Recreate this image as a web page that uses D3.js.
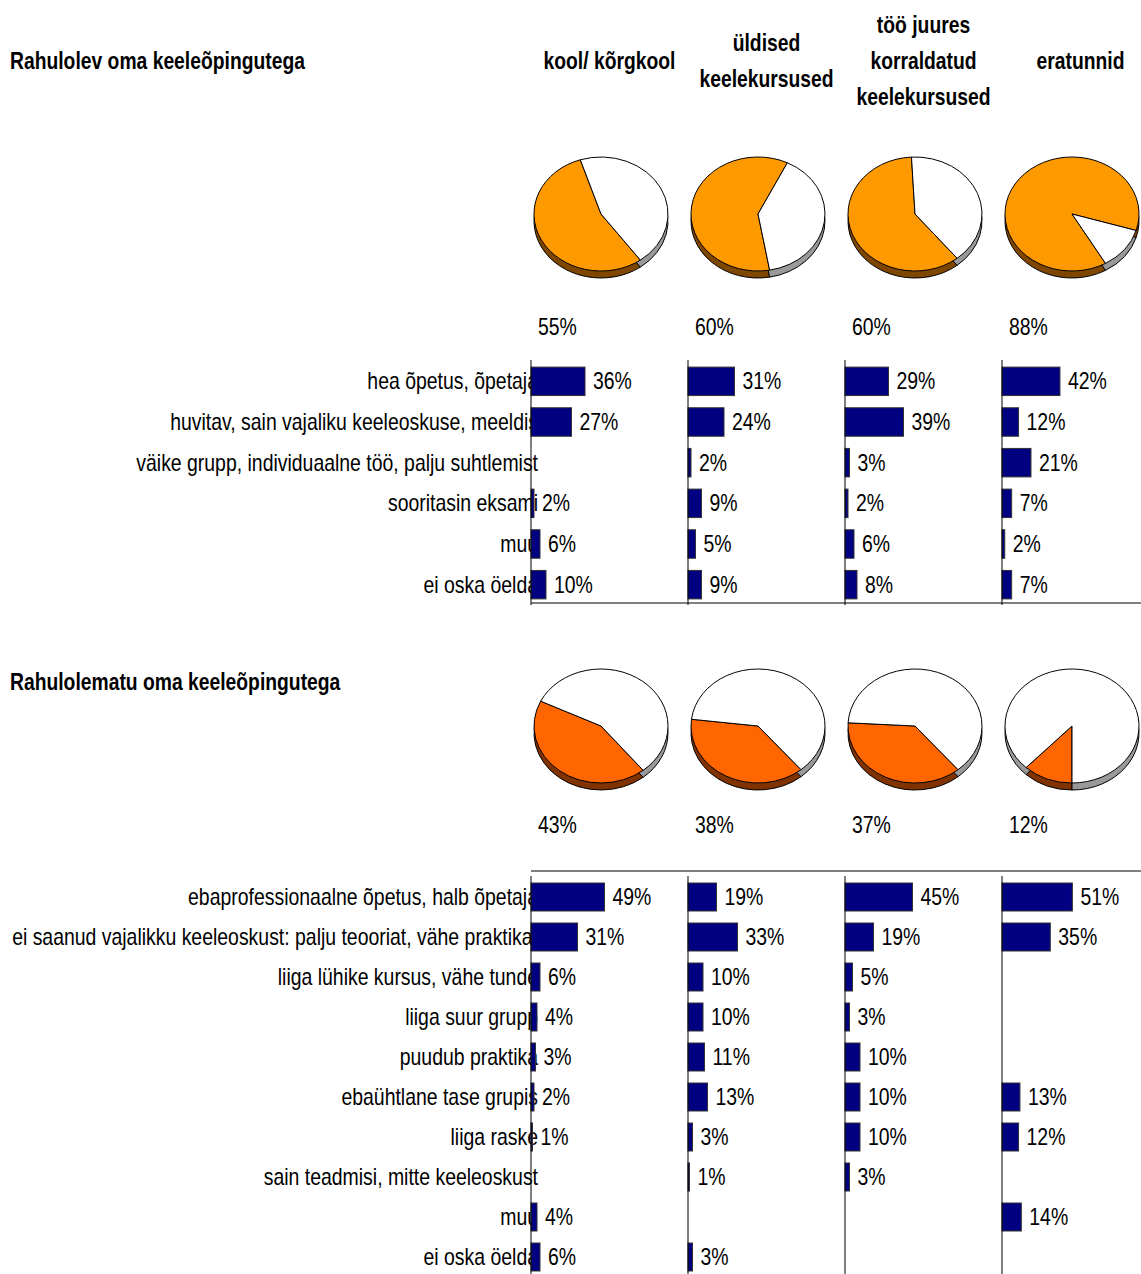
<!DOCTYPE html>
<html>
<head>
<meta charset="utf-8">
<script src="https://cdn.jsdelivr.net/npm/d3@7"></script>
<style>
  body { margin: 0; background: #fff; }
  svg text { font-family: "Liberation Sans", Arial, sans-serif; fill: #000; }
</style>
</head>
<body>
<svg id="chart" width="1141" height="1274"></svg>
<script>
// data
var columns = ["kool/ kõrgkool", "üldised keelekursused", "töö juures korraldatud keelekursused", "eratunnid"];
var headerLines = [["kool/ kõrgkool"], ["üldised", "keelekursused"], ["töö juures", "korraldatud", "keelekursused"], ["eratunnid"]];

var satisfiedShare = [55, 60, 60, 88];
var dissatisfiedShare = [43, 38, 37, 12];

var satisfiedReasons = [
  "hea õpetus, õpetaja",
  "huvitav, sain vajaliku keeleoskuse, meeldis",
  "väike grupp, individuaalne töö, palju suhtlemist",
  "sooritasin eksami",
  "muu",
  "ei oska öelda"
];
// one array per column, null = no bar
var satisfiedValues = [
  [36, 27, null, 2, 6, 10],
  [31, 24, 2, 9, 5, 9],
  [29, 39, 3, 2, 6, 8],
  [42, 12, 21, 7, 2, 7]
];

var dissatisfiedReasons = [
  "ebaprofessionaalne õpetus, halb õpetaja",
  "ei saanud vajalikku keeleoskust: palju teooriat, vähe praktikat",
  "liiga lühike kursus, vähe tunde",
  "liiga suur grupp",
  "puudub praktika",
  "ebaühtlane tase grupis",
  "liiga raske",
  "sain teadmisi, mitte keeleoskust",
  "muu",
  "ei oska öelda"
];
var dissatisfiedValues = [
  [49, 31, 6, 4, 3, 2, 1, null, 4, 6],
  [19, 33, 10, 10, 11, 13, 3, 1, null, 3],
  [45, 19, 5, 3, 10, 10, 10, 3, null, null],
  [51, 35, null, null, null, 13, 12, null, 14, null]
];

// pie rotation (degrees, where the coloured slice starts)
var satisfiedRotation = [144, 170, 141, 150];
var dissatisfiedRotation = [141, 140, 140, 180];

var svg = d3.select("#chart"),
    width = 1141,
    fontSize = 23,
    squeeze = 0.845,     // the original uses a condensed face, so squash the text
    squeezeBold = 0.84;

// columns share one band scale
var x = d3.scaleBand().domain(columns).range([531, 1159]);

// bar length, the last chart is a bit narrower
function barScale(i) {
  return d3.scaleLinear().domain([0, 100]).range([0, i === 3 ? 138 : 150]);
}

// text placed with a translate + horizontal squeeze
function addText(parent, tx, ty, str, bold) {
  return parent.append("text")
    .attr("transform", "translate(" + tx + "," + ty + ") scale(" + (bold ? squeezeBold : squeeze) + ",1)")
    .attr("font-size", fontSize)
    .attr("font-weight", bold ? "bold" : null)
    .text(str);
}

// titles
addText(svg, 10, 69, "Rahulolev oma keeleõpingutega", true);
addText(svg, 10, 690, "Rahulolematu oma keeleõpingutega", true);

// column headers, vertically centred around y=61
columns.forEach(function(c, i) {
  var lines = headerLines[i];
  var t = svg.append("text")
    .attr("transform", "translate(" + (x(c) + x.bandwidth() / 2) + ",0) scale(" + squeezeBold + ",1)")
    .attr("text-anchor", "middle")
    .attr("font-size", fontSize).attr("font-weight", "bold");
  lines.forEach(function(l, j) {
    t.append("tspan")
      .attr("x", 0)
      .attr("y", 69 + (j - (lines.length - 1) / 2) * 36)
      .text(l);
  });
});

// 3d pies
function drawPies(shares, rotation, cy, color, sideColor) {
  var r = 67, ry = 57, depth = 7;
  var arc = d3.arc().innerRadius(0).outerRadius(r);
  shares.forEach(function(v, i) {
    var start = rotation[i] * Math.PI / 180;
    var pie = d3.pie().sort(null).startAngle(start).endAngle(start + 2 * Math.PI);
    var slices = pie([v, 100 - v]);
    var cx = x(columns[i]) + 70;

    // side (shifted copy underneath)
    var side = svg.append("g")
      .attr("transform", "translate(" + cx + "," + (cy + depth) + ") scale(1," + (ry / r) + ")");
    side.selectAll("path").data(slices).enter().append("path")
      .attr("d", arc)
      .attr("fill", function(d, j) { return j === 0 ? sideColor : "#999"; })
      .attr("stroke", "#000").attr("stroke-width", 1)
      .attr("vector-effect", "non-scaling-stroke");

    var top = svg.append("g")
      .attr("transform", "translate(" + cx + "," + cy + ") scale(1," + (ry / r) + ")");
    top.selectAll("path").data(slices).enter().append("path")
      .attr("d", arc)
      .attr("fill", function(d, j) { return j === 0 ? color : "#fff"; })
      .attr("stroke", "#000").attr("stroke-width", 1)
      .attr("vector-effect", "non-scaling-stroke");
  });
}

drawPies(satisfiedShare, satisfiedRotation, 214, "#ff9900", "#7f4600");
drawPies(dissatisfiedShare, dissatisfiedRotation, 726, "#ff6600", "#803300");

// share labels under the pies
function shareLabels(shares, y) {
  shares.forEach(function(d, i) {
    addText(svg, x(columns[i]) + 7, y, d + "%");
  });
}
shareLabels(satisfiedShare, 335);
shareLabels(dissatisfiedShare, 833);

// bar blocks
function drawBars(reasons, values, y0, y1, lineY) {
  var y = d3.scaleBand().domain(reasons).range([y0, y1]).paddingInner(0.3).paddingOuter(0.15);
  var axisTop = y0 - 1, axisBottom = y1;

  // category labels (drawn first, bars cover their end)
  var lab = svg.append("g");
  reasons.forEach(function(d) {
    addText(lab, x(columns[0]) + 7, y(d) + y.bandwidth() / 2 + 8, d)
      .attr("text-anchor", "end");
  });

  // horizontal rule
  svg.append("line")
    .attr("x1", x(columns[0])).attr("x2", width)
    .attr("y1", lineY).attr("y2", lineY)
    .attr("stroke", "#000").attr("stroke-width", 1.2);

  values.forEach(function(vals, i) {
    var bx = barScale(i), left = x(columns[i]);
    var g = svg.append("g");
    var rows = reasons.map(function(r, k) { return {reason: r, value: vals[k]}; })
      .filter(function(d) { return d.value !== null; });

    g.selectAll("rect").data(rows).enter().append("rect")
      .attr("x", left)
      .attr("y", function(d) { return y(d.reason); })
      .attr("width", function(d) { return bx(d.value); })
      .attr("height", y.bandwidth())
      .attr("fill", "#000080")
      .attr("stroke", "#333").attr("stroke-width", 1);

    rows.forEach(function(d) {
      addText(g, left + bx(d.value) + 8, y(d.reason) + y.bandwidth() / 2 + 8, d.value + "%");
    });

    g.append("line")
      .attr("x1", left).attr("x2", left)
      .attr("y1", axisTop).attr("y2", axisBottom)
      .attr("stroke", "#000").attr("stroke-width", 1);
  });
}

drawBars(satisfiedReasons, satisfiedValues, 361, 605, 603);
drawBars(dissatisfiedReasons, dissatisfiedValues, 877, 1277, 871);
</script>
</body>
</html>
